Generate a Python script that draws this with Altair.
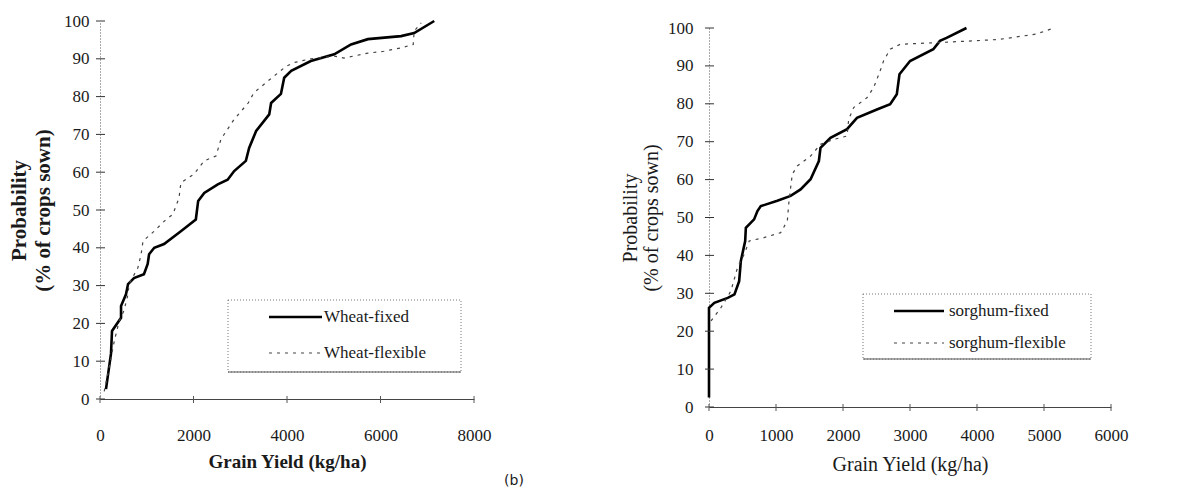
import altair as alt
import pandas as pd

# ---------------- data ----------------
# Wheat (left panel)
wheat_names = ["Wheat-fixed", "Wheat-flexible"]
wf_x = [128, 235, 257, 450, 450, 556, 600, 727, 940, 1020, 1050, 1160, 1370, 1730, 2050, 2100, 2230, 2520,
        2730, 2870, 3120, 3190, 3340, 3620, 3660, 3870, 3940, 4090, 4510, 5010, 5370, 5730, 6440, 6720, 7150]
wf_p = [2.6, 12, 18, 21.5, 24.6, 27.7, 30.4, 32, 33, 35.7, 38.3, 40, 41, 44.4, 47.5, 52.4, 54.5, 56.8,
        58, 60.3, 63, 66.4, 70.9, 75.3, 78.3, 80.7, 85, 86.8, 89.4, 91.2, 93.8, 95.2, 96, 96.8, 100]
wx_x = [90, 190, 300, 410, 510, 600, 620, 810, 880, 920, 1160, 1370, 1560, 1690, 1730, 2010, 2230, 2480,
        2590, 2870, 3170, 3290, 3590, 3980, 4150, 4510, 5010, 5220, 5730, 6070, 6440, 6700, 6720, 6870]
wx_p = [2, 8, 15, 20.6, 23.3, 27.7, 30.4, 34.7, 38.3, 41.8, 44.4, 47, 48.9, 53.2, 57.2, 59.5, 63, 64.3,
        68.8, 74, 78.3, 81, 84.1, 88, 89, 90, 90.7, 90.2, 91.5, 92, 92.9, 93.8, 97.3, 99.5]
wheat_xticks = [0, 2000, 4000, 6000, 8000]

# Sorghum (right panel)
sorghum_names = ["sorghum-fixed", "sorghum-flexible"]
sf_x = [0, 0, 0, 80, 280, 380, 450, 475, 540, 550, 673, 723, 773, 1020, 1218, 1367, 1516, 1640, 1664,
        1813, 2060, 2209, 2506, 2704, 2803, 2843, 3001, 3348, 3447, 3546, 3843]
sf_p = [2.5, 19, 26.2, 27.5, 28.8, 29.7, 33.2, 38.5, 43.8, 47.3, 49.5, 51.7, 53, 54.4, 55.7, 57.4, 60.1,
        64.9, 68.4, 71, 73.3, 76.3, 78.5, 79.9, 82.5, 87.8, 91.3, 94.4, 96.6, 97.4, 100]
sx_x = [30, 178, 327, 426, 525, 600, 822, 1070, 1169, 1194, 1243, 1318, 1516, 1664, 1862, 2060, 2085,
        2159, 2357, 2456, 2555, 2605, 2704, 2853, 3348, 3942, 4339, 4883, 5150]
sx_p = [22.7, 26.2, 30.6, 36.8, 40.3, 43.8, 44.7, 46, 49.1, 54.4, 61.4, 63.6, 66.2, 69.3, 70.6, 71.5,
        75.9, 79, 81.6, 84.2, 88.7, 91.3, 94.4, 95.7, 96.1, 96.6, 97, 98.4, 100]
sorghum_xticks = [0, 1000, 2000, 3000, 4000, 5000, 6000]

y_ticks = list(range(0, 101, 10))
panel_label = "(b)"
x_title = "Grain Yield (kg/ha)"
y_title = ["Probability", "(% of crops sown)"]

FONT = "Liberation Serif"
INK = "#1a1a1a"


def series_df(xs, ps):
    return pd.DataFrame({"x": xs, "p": ps, "i": list(range(len(xs)))})


def panel(fixed, flex, names, xmax, xticks, w, h, top_gap, bold, lab_pad_x, title_pad_x,
          lab_pad_y, title_pad_y, title_lh, xt_size, yt_size, legend, extra_text=None):
    xs = alt.Scale(domain=[0, xmax], nice=False, zero=True)
    ys = alt.Scale(domain=[0, 100], nice=False, range=[h, top_gap])
    weight = "bold" if bold else "normal"
    xaxis = alt.Axis(values=xticks, title=x_title, grid=False, ticks=False, tickSize=0,
                     labelPadding=lab_pad_x, titlePadding=title_pad_x, labelFontSize=17,
                     titleFontSize=xt_size, titleFontWeight=weight, labelFont=FONT, titleFont=FONT,
                     labelColor=INK, titleColor=INK, domainColor="#444", domainWidth=1,
                     labelFlush=False, format="d")
    yaxis = alt.Axis(values=y_ticks, title=y_title, grid=False, ticks=False, tickSize=0,
                     labelPadding=lab_pad_y, titlePadding=title_pad_y, labelFontSize=17,
                     titleFontSize=yt_size, titleFontWeight=weight, labelFont=FONT, titleFont=FONT,
                     labelColor=INK, titleColor=INK, domainColor="#555", domainDash=[1, 2],
                     titleLineHeight=title_lh, labelFlush=False)

    X = alt.X("x:Q", scale=xs, axis=xaxis)
    Y = alt.Y("p:Q", scale=ys, axis=yaxis)

    fixed_line = alt.Chart(fixed).mark_line(color="#000", strokeWidth=2.6).encode(
        x=X, y=Y, order="i:Q")
    flex_line = alt.Chart(flex).mark_line(color="#444", strokeWidth=1.2, strokeDash=[3, 5]).encode(
        x=X, y=Y, order="i:Q")
    ytick_df = pd.DataFrame({"p": y_ticks})
    ytick_marks = alt.Chart(ytick_df).mark_rule(color="#333", strokeWidth=1).encode(
        y=Y, x=alt.value(-4), x2=alt.value(5))
    xtick_df = pd.DataFrame({"x": xticks})
    xtick_marks = alt.Chart(xtick_df).mark_rule(color="#555", strokeWidth=1).encode(
        x=X, y=alt.value(h - 3), y2=alt.value(h + 4))

    one = pd.DataFrame({"k": [0]})
    (bx0, bx1, by0, by1, lx0, lx1, tx, ry1, ry2) = legend
    box = alt.Chart(one).mark_rect(fill="white", stroke="#777", strokeWidth=1, strokeDash=[1, 2]).encode(
        x=alt.value(bx0), x2=alt.value(bx1), y=alt.value(by0), y2=alt.value(by1))
    box_bottom = alt.Chart(one).mark_rule(color="#555", strokeWidth=1).encode(
        x=alt.value(bx0), x2=alt.value(bx1), y=alt.value(by1))
    leg_fixed = alt.Chart(one).mark_rule(color="#000", strokeWidth=2.4).encode(
        x=alt.value(lx0), x2=alt.value(lx1), y=alt.value(ry1))
    leg_flex = alt.Chart(one).mark_rule(color="#444", strokeWidth=1.2, strokeDash=[3, 5]).encode(
        x=alt.value(lx0), x2=alt.value(lx1), y=alt.value(ry2))
    leg_t1 = alt.Chart(one).mark_text(align="left", baseline="middle", font=FONT, fontSize=17,
                                      color=INK).encode(x=alt.value(tx), y=alt.value(ry1),
                                                        text=alt.value(names[0]))
    leg_t2 = alt.Chart(one).mark_text(align="left", baseline="middle", font=FONT, fontSize=17,
                                      color=INK).encode(x=alt.value(tx), y=alt.value(ry2),
                                                        text=alt.value(names[1]))
    layers = [fixed_line, flex_line, ytick_marks, xtick_marks, box, box_bottom,
              leg_fixed, leg_flex, leg_t1, leg_t2]
    if extra_text is not None:
        ex, ey, et = extra_text
        layers.append(alt.Chart(one).mark_text(align="center", baseline="middle", font="DejaVu Sans",
                                               fontSize=14, color=INK).encode(
            x=alt.value(ex), y=alt.value(ey), text=alt.value(et)))
    return alt.layer(*layers).properties(width=w, height=h)


left = panel(series_df(wf_x, wf_p), series_df(wx_x, wx_p), wheat_names, 8000, wheat_xticks,
             374, 378, 0, True, 28, 9, 11, 10, 24, 19, 21,
             legend=(128, 361, 279, 351, 169, 222, 224, 296, 332),
             extra_text=(414, 460, panel_label))

right = panel(series_df(sf_x, sf_p), series_df(sx_x, sx_p), sorghum_names, 6000, sorghum_xticks,
              402, 386, 7, False, 20, 11, 16, 6, 21, 20, 20,
              legend=(154, 382, 273, 338, 185, 235, 240, 290, 322))

chart = alt.hconcat(left, right, spacing=96).properties(
    padding={"left": 0, "top": 4, "right": 5, "bottom": 5},
    background="white",
).configure_view(stroke=None)

chart.save("out.html", embed_options={"renderer": "svg", "actions": False})
